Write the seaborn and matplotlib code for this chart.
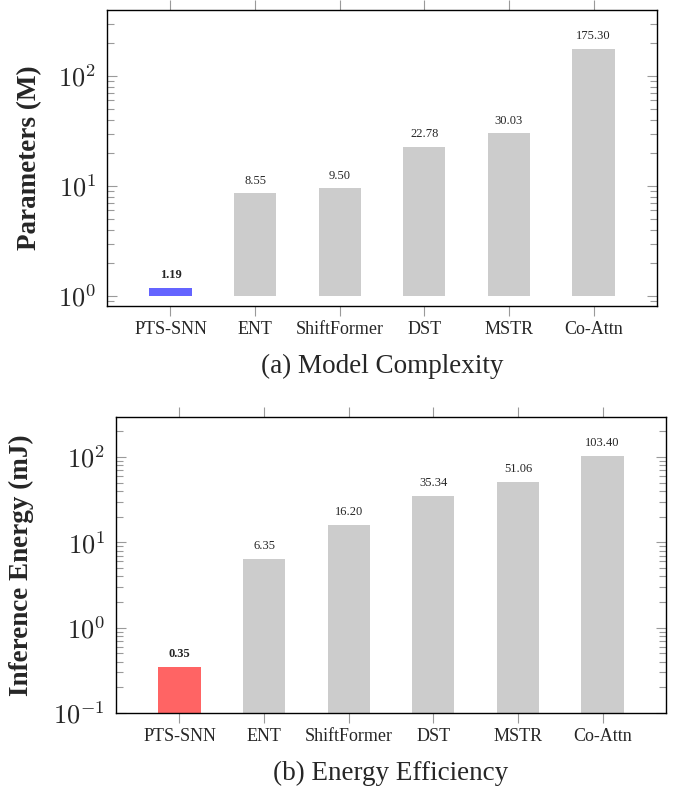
import matplotlib
matplotlib.use('Agg')
import matplotlib.pyplot as plt
import matplotlib.ticker as mticker
import numpy as np
import pandas as pd
import seaborn as sns

models = ['PTS-SNN', 'ENT', 'ShiftFormer', 'DST', 'MSTR', 'Co-Attn']
params_m = [1.19, 8.55, 9.50, 22.78, 30.03, 175.30]
energy_mj = [0.35, 6.35, 16.20, 35.34, 51.06, 103.40]

GRAY = '#cccccc'
BLUE = '#6464ff'
RED = '#ff6464'
TICK = '#9a9a9a'

sns.set_theme(style='white')
plt.rcParams['font.family'] = ['Liberation Serif', 'DejaVu Serif']
plt.rcParams['mathtext.fontset'] = 'cm'


def log_fmt(val, pos):
    return r'$10^{%d}$' % round(np.log10(val))


def draw_panel(ax, values, highlight, base, ylim, ylabel, label_x, caption):
    df = pd.DataFrame({'model': models, 'value': values})
    palette = [highlight] + [GRAY] * (len(models) - 1)
    sns.barplot(data=df, x='model', y='value', hue='model', palette=palette,
                width=0.5, saturation=1, legend=False, ax=ax)
    ax.set_yscale('log')
    # bars start at the axis baseline, like pgfplots ybar on a log axis
    for patch, v in zip(ax.patches, values):
        patch.set_y(base)
        patch.set_height(v - base)
        patch.set_linewidth(0)

    for i, v in enumerate(values):
        ax.annotate(f'{v:.2f}', (i, v), xytext=(0, 5), textcoords='offset points',
                    ha='center', va='bottom', fontsize=9,
                    fontweight='bold' if i == 0 else 'normal')

    ax.set_xlim(-0.75, 5.75)
    ax.set_ylim(*ylim)
    ax.yaxis.set_major_locator(mticker.LogLocator(base=10))
    ax.yaxis.set_minor_locator(mticker.LogLocator(base=10, subs=np.arange(2, 10)))
    ax.yaxis.set_major_formatter(mticker.FuncFormatter(log_fmt))
    ax.yaxis.set_minor_formatter(mticker.NullFormatter())

    ax.tick_params(axis='y', which='both', direction='in', left=True, right=True,
                   color=TICK, width=0.8)
    ax.tick_params(axis='y', which='major', length=7, labelsize=19, pad=8)
    ax.tick_params(axis='y', which='minor', length=5)
    ax.tick_params(axis='x', which='major', direction='out', top=True, bottom=True,
                   length=7, color=TICK, width=0.8, labelsize=13, pad=4)

    for spine in ax.spines.values():
        spine.set_color('black')
        spine.set_linewidth(1.0)

    ax.set_xlabel('')
    ax.set_ylabel(ylabel, fontsize=19.5, fontweight='bold')
    ax.yaxis.set_label_coords(label_x, 0.5)
    ax.text(0.5, -0.205, caption, transform=ax.transAxes, ha='center', va='center',
            fontsize=19.5)


fig = plt.figure(figsize=(6.75, 7.91), dpi=100)
ax_top = fig.add_axes([107 / 675, 1 - 306 / 791, 550 / 675, 296 / 791])
ax_bot = fig.add_axes([116 / 675, 1 - 713 / 791, 550 / 675, 296 / 791])

draw_panel(ax_top, params_m, BLUE, 1.0, (10 ** (-10 / 110), 10 ** 2.6),
           'Parameters (M)', -0.118, '(a) Model Complexity')
draw_panel(ax_bot, energy_mj, RED, 0.1, (0.1, 10 ** 2.47),
           'Inference Energy (mJ)', -0.149, '(b) Energy Efficiency')

fig.savefig('out.png', dpi=100)
plt.close(fig)
